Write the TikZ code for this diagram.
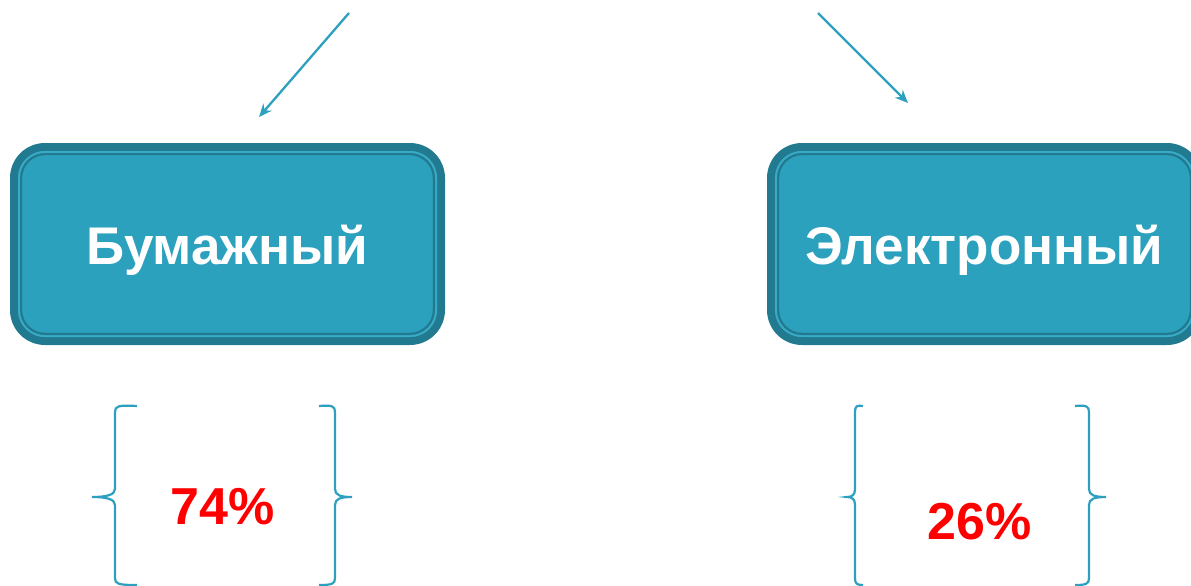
\documentclass[tikz,border=0pt]{standalone}
\usepackage{fontspec}
\setmainfont{Liberation Sans}
\usetikzlibrary{arrows.meta,calc}
\definecolor{boxfill}{HTML}{2CA1BE}
\definecolor{boxdark}{HTML}{217A8F}
\definecolor{boxlight}{HTML}{3AABC7}
\definecolor{linecol}{HTML}{2EA0BF}
\definecolor{pctred}{HTML}{FF0000}
\tikzset{
  catbox/.style={draw=boxdark, line width=8pt, fill=boxfill, rounded corners=31pt,
    minimum width=427pt, minimum height=194pt, inner sep=0pt, outer sep=0pt,
    text=white, font=\fontsize{53}{58}\selectfont\bfseries},
  lightband/.style={draw=boxlight, line width=2pt, rounded corners=26pt},
  innerline/.style={draw=boxdark, line width=2.2pt, rounded corners=24pt},
  pct/.style={text=pctred, font=\fontsize{52}{58}\selectfont\bfseries, inner sep=0pt},
  brace/.style={draw=linecol, line width=2.2pt},
  feed/.style={draw=linecol, line width=2.3pt, -{Stealth[length=13pt,width=11pt]}}
}
\begin{document}
\begin{tikzpicture}[x=1pt,y=-1pt]
\useasboundingbox (0,0) rectangle (1191,586);
% boxes
\node[catbox] (paper) at (227.5,244) {\raisebox{-20pt}[0pt][0pt]{Бумажный}};
\draw[lightband] ($(paper.north west)+(5,5)$) rectangle ($(paper.south east)+(-5,-5)$);
\draw[innerline] ($(paper.north west)+(7.1,7.1)$) rectangle ($(paper.south east)+(-7.1,-7.1)$);
\node[catbox] (elec) at (984.5,244) {\raisebox{-20pt}[0pt][0pt]{Электронный}};
\draw[lightband] ($(elec.north west)+(5,5)$) rectangle ($(elec.south east)+(-5,-5)$);
\draw[innerline] ($(elec.north west)+(7.1,7.1)$) rectangle ($(elec.south east)+(-7.1,-7.1)$);
% arrows
\coordinate (srcL) at (349,13);
\coordinate (dstL) at (259,117);
\coordinate (srcR) at (818,13);
\coordinate (dstR) at (908,103);
\draw[feed] (srcL) -- (dstL);
\draw[feed] (srcR) -- (dstR);
% percentages
\node[pct] (p74) at (223,507) {74\%};
\node[pct] (p26) at (980,522) {26\%};
% braces left group
\draw[brace] (137,406) .. controls (118,405) and (115,406) .. (115,412) -- (115,489)
  .. controls (115,495) and (106,497) .. (92,497)
  .. controls (106,497) and (115,499) .. (115,505) -- (115,578)
  .. controls (115,584) and (118,585) .. (137,585);
\draw[brace] (319,406) .. controls (332,405) and (335,406) .. (335,412) -- (335,489)
  .. controls (335,495) and (340,497) .. (352,497)
  .. controls (340,497) and (335,499) .. (335,505) -- (335,578)
  .. controls (335,584) and (332,585) .. (319,585);
% braces right group
\draw[brace] (863,406) .. controls (857,405) and (855,406) .. (855,412) -- (855,489)
  .. controls (855,495) and (852,497) .. (847,497)
  .. controls (852,497) and (855,499) .. (855,505) -- (855,578)
  .. controls (855,584) and (857,585) .. (863,585);
\draw[brace] (1075,406) .. controls (1086,405) and (1089,406) .. (1089,412) -- (1089,489)
  .. controls (1089,495) and (1094,497) .. (1106,497)
  .. controls (1094,497) and (1089,499) .. (1089,505) -- (1089,578)
  .. controls (1089,584) and (1086,585) .. (1075,585);
\end{tikzpicture}
\end{document}
